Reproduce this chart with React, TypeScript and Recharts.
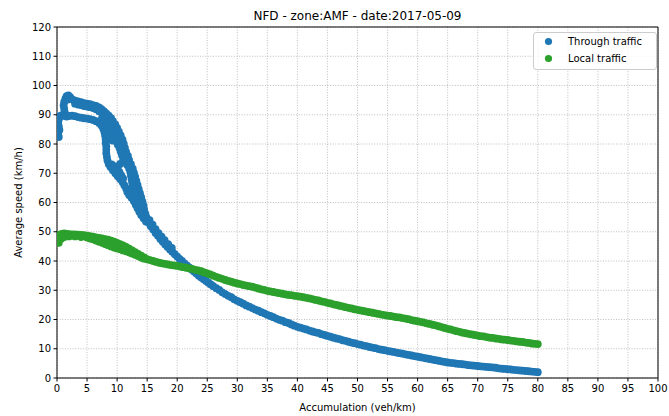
import React from 'react';
import { ScatterChart, Scatter, XAxis, YAxis, CartesianGrid, ReferenceLine } from 'recharts';

const FONT = '"DejaVu Sans", "Liberation Sans", sans-serif';
const THROUGH_COLOR = '#1f77b4';
const LOCAL_COLOR = '#2ca02c';

const chartTitle = 'NFD - zone:AMF - date:2017-05-09';
const xLabel = 'Accumulation (veh/km)';
const yLabel = 'Average speed (km/h)';
const seriesNames = ['Through traffic', 'Local traffic'];

const xTicks = [0, 5, 10, 15, 20, 25, 30, 35, 40, 45, 50, 55, 60, 65, 70, 75, 80, 85, 90, 95, 100];
const yTicks = [0, 10, 20, 30, 40, 50, 60, 70, 80, 90, 100, 110, 120];

// Through traffic: start at the y axis and the "ear" near the top
const throughStart: [number, number][] = [
  [0.3, 82.4], [0.2, 83.6], [0.4, 84.8], [0.3, 86.0], [0.2, 87.2], [0.3, 88.4], [0.4, 89.5], [0.8, 89.9], [1.2, 89.6],
  [1.3, 90.8], [1.2, 92.0], [1.1, 93.2], [1.2, 94.4], [1.4, 95.5], [1.6, 96.4], [1.9, 96.6], [2.2, 96.0], [1.8, 95.2],
];

// Through traffic: upper arc of the loop
const throughUpper: [number, number][] = [
  [2.6, 95.2], [3.0, 94.8], [3.5, 94.6], [4.0, 94.3], [4.5, 94.0], [5.0, 93.8], [5.5, 93.6], [6.0, 93.3], [6.5, 93.0],
  [7.0, 92.5], [7.4, 91.9], [7.8, 91.2], [8.2, 90.5], [8.6, 89.7], [9.0, 88.8], [9.3, 87.8], [9.7, 86.7], [10.0, 85.5],
  [10.3, 84.2], [10.6, 82.9], [10.9, 81.5], [11.1, 80.1], [11.3, 78.7], [11.5, 77.3], [11.8, 75.9], [12.0, 74.5],
  [12.3, 73.1], [12.6, 71.6], [12.8, 70.2], [13.0, 68.8], [13.2, 67.4], [13.4, 66.0], [13.6, 64.6], [13.8, 63.2],
  [14.0, 61.8], [14.2, 60.4], [14.4, 59.0], [14.5, 57.6], [14.7, 56.2], [14.9, 54.9],
  [3.0, 93.8], [3.5, 93.5], [4.0, 93.3], [4.5, 93.0], [5.0, 92.8], [5.5, 92.6], [6.0, 92.3], [6.5, 91.9], [7.0, 91.2],
];

// Through traffic: lower arc and left branch
const throughLower: [number, number][] = [
  [1.6, 89.4], [2.0, 89.6], [2.5, 89.7], [3.0, 89.5], [3.5, 89.2], [4.0, 89.0], [4.5, 88.8], [5.0, 88.7], [5.5, 88.5],
  [6.0, 88.2], [6.5, 87.8], [7.0, 87.2], [7.4, 86.3], [7.7, 85.2], [7.9, 84.0], [8.0, 82.8], [8.1, 81.6], [8.1, 80.4],
  [8.2, 79.2], [8.2, 78.0], [8.2, 76.8], [8.3, 75.6], [8.4, 74.4], [8.6, 73.2], [8.9, 72.1], [9.3, 71.0], [9.7, 70.0],
  [10.1, 69.0], [10.5, 68.0], [10.9, 67.0], [11.2, 65.9], [11.5, 64.8], [11.7, 63.6], [12.0, 62.6], [12.4, 61.6],
  [12.8, 60.4], [13.1, 59.2], [13.4, 58.0], [13.7, 56.8], [14.0, 55.7], [14.4, 54.6], [14.8, 53.5],
  [9.1, 73.0], [9.6, 72.3], [10.1, 71.5], [10.5, 73.2], [10.4, 70.4], [10.7, 69.3], [11.0, 68.2],
];

// Through traffic: middle / right branch
const throughMiddle: [number, number][] = [
  [7.5, 89.0], [8.0, 88.0], [8.5, 87.0], [8.9, 86.0], [9.2, 84.8], [9.4, 83.5], [9.6, 82.2], [9.8, 81.0], [10.1, 79.8],
  [10.4, 78.6], [10.6, 77.4], [10.8, 76.2], [11.0, 75.0], [11.3, 73.9], [11.7, 72.8], [12.0, 71.6], [12.2, 70.4],
  [12.3, 69.2], [12.4, 68.0], [12.5, 66.8], [12.6, 65.6], [12.8, 64.4], [13.0, 63.2], [13.2, 62.0], [13.5, 60.8],
  [13.8, 59.6], [14.1, 58.4], [8.7, 84.5], [8.9, 82.5], [9.2, 81.2],
];

// Through traffic: long decreasing tail
const throughTail: [number, number][] = [
  [15.2, 53.2], [15.6, 51.9], [16.0, 50.8], [16.4, 49.6], [16.8, 48.6], [17.2, 47.5], [17.6, 46.6], [18.0, 45.6],
  [18.4, 44.8], [18.8, 43.9], [19.2, 43.1], [19.6, 42.3], [20.0, 41.5], [20.4, 40.7], [20.8, 40.0], [21.2, 39.2],
  [21.6, 38.5], [22.0, 37.8], [22.4, 37.1], [22.8, 36.4], [23.2, 35.7], [23.6, 35.0], [24.0, 34.4], [24.4, 33.8],
  [24.8, 33.2], [25.2, 32.6], [25.6, 32.0], [26.0, 31.4], [26.5, 30.7], [27.0, 30.1], [27.5, 29.3], [28.0, 28.7],
  [28.5, 28.1], [29.0, 27.6], [29.5, 26.9], [30.0, 26.4], [30.5, 25.9], [31.0, 25.4], [31.5, 24.8], [32.0, 24.4],
  [32.5, 23.9], [33.0, 23.4], [33.5, 23.0], [34.0, 22.5], [34.5, 22.1], [35.0, 21.6], [35.5, 21.2], [36.0, 20.8],
  [36.5, 20.3], [37.0, 19.9], [37.5, 19.6], [38.0, 19.1], [38.5, 18.8], [39.0, 18.3], [39.5, 17.9], [40.0, 17.5],
  [40.5, 17.2], [41.0, 16.9], [41.5, 16.6], [42.0, 16.2], [42.5, 15.9], [43.0, 15.6], [43.5, 15.4], [44.0, 15.0],
  [44.5, 14.7], [45.0, 14.4], [45.5, 14.1], [46.0, 13.8], [46.5, 13.5], [47.0, 13.3], [47.5, 12.9], [48.0, 12.7],
  [48.5, 12.4], [49.0, 12.1], [49.5, 11.9], [50.0, 11.6], [50.5, 11.4], [51.0, 11.1], [51.5, 10.9], [52.0, 10.6],
  [52.5, 10.4], [53.0, 10.2], [53.5, 9.9], [54.0, 9.7], [54.5, 9.5], [55.0, 9.3], [55.5, 9.1], [56.0, 8.9],
  [56.5, 8.7], [57.0, 8.5], [57.5, 8.3], [58.0, 8.1], [58.5, 7.9], [59.0, 7.7], [59.5, 7.5], [60.0, 7.3],
  [60.5, 7.1], [61.0, 6.9], [61.5, 6.7], [62.0, 6.5], [62.5, 6.3], [63.0, 6.1], [63.5, 5.9], [64.0, 5.7],
  [64.5, 5.5], [65.0, 5.3], [65.5, 5.2], [66.0, 5.1], [66.5, 4.9], [67.0, 4.8], [67.5, 4.7], [68.0, 4.6],
  [68.5, 4.4], [69.0, 4.3], [69.5, 4.2], [70.0, 4.1], [70.5, 4.0], [71.0, 3.9], [71.5, 3.8], [72.0, 3.7],
  [72.5, 3.6], [73.0, 3.5], [73.5, 3.3], [74.0, 3.2], [74.5, 3.1], [75.0, 3.0], [75.5, 2.9], [76.0, 2.8],
  [76.5, 2.7], [77.0, 2.6], [77.5, 2.5], [78.0, 2.4], [78.5, 2.3], [79.0, 2.2], [79.5, 2.1], [80.0, 2.0],
  [15.4, 54.0], [15.9, 52.4], [16.4, 50.9], [16.9, 49.5], [17.4, 48.3], [17.9, 47.1], [18.5, 45.8], [19.1, 44.5],
];

// Local traffic: plateau near 48-49 km/h (two overlapping passes)
const localHead: [number, number][] = [
  [0.1, 46.4], [0.1, 47.4], [0.2, 48.3], [0.4, 49.0], [0.8, 49.3], [1.2, 49.4], [1.6, 49.3], [2.0, 49.2], [2.5, 49.1],
  [3.0, 49.1], [3.5, 49.0], [4.0, 48.9], [4.5, 48.8], [5.0, 48.7], [5.5, 48.5], [6.0, 48.3], [6.5, 48.1], [7.0, 47.9],
  [7.5, 47.7], [8.0, 47.5], [8.5, 47.3], [9.0, 47.0], [9.5, 46.6], [10.0, 46.2], [10.5, 45.8], [11.0, 45.3],
  [11.5, 44.8], [12.0, 44.2], [12.5, 43.6], [13.0, 43.0], [13.5, 42.4], [14.0, 41.8], [14.5, 41.2],
  [0.3, 46.2], [0.7, 47.6], [1.2, 48.2], [2.0, 48.4], [3.0, 48.4], [4.0, 48.2], [5.0, 48.0], [5.5, 47.7], [6.0, 47.4],
  [6.5, 47.0], [7.0, 46.6], [7.5, 46.2], [8.0, 45.8], [8.5, 45.4], [9.0, 45.0], [9.5, 44.6], [10.0, 44.3],
  [10.5, 44.0], [11.0, 43.6], [11.5, 43.3], [12.0, 42.9], [12.5, 42.5], [13.0, 42.1], [13.5, 41.7], [14.0, 41.2],
  [14.5, 40.8],
];

// Local traffic: long decreasing tail
const localTail: [number, number][] = [
  [15.0, 40.6], [15.5, 40.3], [16.0, 40.0], [16.5, 39.7], [17.0, 39.4], [17.5, 39.2], [18.0, 39.0], [18.5, 38.8],
  [19.0, 38.6], [19.5, 38.5], [20.0, 38.3], [20.5, 38.1], [21.0, 37.9], [21.5, 37.7], [22.0, 37.5], [22.5, 37.3],
  [23.0, 37.0], [23.5, 36.8], [24.0, 36.5], [24.5, 36.1], [25.0, 35.8], [25.5, 35.4], [26.0, 35.0], [26.5, 34.6],
  [27.0, 34.2], [27.5, 33.9], [28.0, 33.5], [28.5, 33.2], [29.0, 32.9], [29.5, 32.6], [30.0, 32.3], [30.5, 32.1],
  [31.0, 31.8], [31.5, 31.6], [32.0, 31.4], [32.5, 31.2], [33.0, 30.9], [33.5, 30.6], [34.0, 30.3], [34.5, 30.1],
  [35.0, 29.8], [35.5, 29.6], [36.0, 29.4], [36.5, 29.2], [37.0, 29.0], [37.5, 28.8], [38.0, 28.6], [38.5, 28.4],
  [39.0, 28.3], [39.5, 28.1], [40.0, 28.0], [40.5, 27.8], [41.0, 27.6], [41.5, 27.4], [42.0, 27.2], [42.5, 27.0],
  [43.0, 26.7], [43.5, 26.5], [44.0, 26.2], [44.5, 26.0], [45.0, 25.7], [45.5, 25.5], [46.0, 25.2], [46.5, 25.0],
  [47.0, 24.7], [47.5, 24.5], [48.0, 24.2], [48.5, 24.0], [49.0, 23.8], [49.5, 23.5], [50.0, 23.3], [50.5, 23.1],
  [51.0, 22.9], [51.5, 22.7], [52.0, 22.5], [52.5, 22.3], [53.0, 22.1], [53.5, 21.9], [54.0, 21.7], [54.5, 21.5],
  [55.0, 21.3], [55.5, 21.2], [56.0, 21.0], [56.5, 20.8], [57.0, 20.7], [57.5, 20.5], [58.0, 20.3], [58.5, 20.1],
  [59.0, 19.8], [59.5, 19.6], [60.0, 19.4], [60.5, 19.2], [61.0, 19.0], [61.5, 18.7], [62.0, 18.5], [62.5, 18.2],
  [63.0, 18.0], [63.5, 17.7], [64.0, 17.4], [64.5, 17.1], [65.0, 16.8], [65.5, 16.6], [66.0, 16.3], [66.5, 16.0],
  [67.0, 15.8], [67.5, 15.5], [68.0, 15.3], [68.5, 15.1], [69.0, 14.9], [69.5, 14.7], [70.0, 14.5], [70.5, 14.3],
  [71.0, 14.2], [71.5, 14.0], [72.0, 13.8], [72.5, 13.7], [73.0, 13.5], [73.5, 13.4], [74.0, 13.2], [74.5, 13.1],
  [75.0, 13.0], [75.5, 12.8], [76.0, 12.7], [76.5, 12.5], [77.0, 12.4], [77.5, 12.3], [78.0, 12.1], [78.5, 12.0],
  [79.0, 11.8], [79.5, 11.7], [80.0, 11.6],
];

const toPoints = (arrs: [number, number][][]) =>
  arrs.flat().map(([x, y]) => ({ x, y }));

const throughData = toPoints([throughStart, throughUpper, throughLower, throughMiddle, throughTail]);
const localData = toPoints([localHead, localTail]);

const makeDot = (color: string) => (props: any) => {
  if (props.cx == null || props.cy == null) return <g />;
  return <circle cx={props.cx} cy={props.cy} r={3.9} fill={color} />;
};

const tickStyle = { fontSize: 10, fill: '#000', fontFamily: FONT };

export default function App() {
  return (
    <div style={{ position: 'absolute', left: 0, top: 0, width: 669, height: 416, background: '#fff' }}>
      <div style={{ position: 'absolute', left: 0, top: 0 }}>
        <ScatterChart width={669} height={416} margin={{ top: 27, right: 11, bottom: 0, left: 0 }}>
          <CartesianGrid stroke="#b0b0b0" strokeWidth={0.8} strokeDasharray="1 1.6" />
          <XAxis
            type="number"
            dataKey="x"
            domain={[0, 100]}
            ticks={xTicks}
            interval={0}
            allowDataOverflow
            height={38}
            tickSize={3.5}
            tickMargin={3}
            axisLine={{ stroke: '#000' }}
            tickLine={{ stroke: '#000' }}
            tick={tickStyle}
          />
          <YAxis
            type="number"
            dataKey="y"
            domain={[0, 120]}
            ticks={yTicks}
            interval={0}
            allowDataOverflow
            width={57}
            tickSize={3.5}
            tickMargin={2.5}
            axisLine={{ stroke: '#000' }}
            tickLine={{ stroke: '#000' }}
            tick={tickStyle}
          />
          <ReferenceLine y={120} stroke="#000" />
          <ReferenceLine x={100} stroke="#000" />
          <Scatter name={seriesNames[0]} data={throughData} fill={THROUGH_COLOR} shape={makeDot(THROUGH_COLOR)} isAnimationActive={false} />
          <Scatter name={seriesNames[1]} data={localData} fill={LOCAL_COLOR} shape={makeDot(LOCAL_COLOR)} isAnimationActive={false} />
        </ScatterChart>
      </div>
      <svg width={669} height={416} style={{ position: 'absolute', left: 0, top: 0, pointerEvents: 'none' }}>
        <text x={357.5} y={20} textAnchor="middle" fontSize={12} fontFamily={FONT} fill="#000">{chartTitle}</text>
        <text x={357.5} y={411} textAnchor="middle" fontSize={10} fontFamily={FONT} fill="#000">{xLabel}</text>
        <text x={21.5} y={202.5} textAnchor="middle" fontSize={10} fontFamily={FONT} fill="#000" transform="rotate(-90 21.5 202.5)">{yLabel}</text>
        <rect x={533.5} y={32.5} width={123} height={37} rx={2.5} fill="#fff" fillOpacity={0.8} stroke="#cccccc" />
        <circle cx={548.5} cy={41.5} r={3.6} fill={THROUGH_COLOR} />
        <circle cx={548.5} cy={58.5} r={3.6} fill={LOCAL_COLOR} />
        <text x={568} y={45} fontSize={10} fontFamily={FONT} fill="#000">{seriesNames[0]}</text>
        <text x={568} y={62} fontSize={10} fontFamily={FONT} fill="#000">{seriesNames[1]}</text>
      </svg>
    </div>
  );
}
